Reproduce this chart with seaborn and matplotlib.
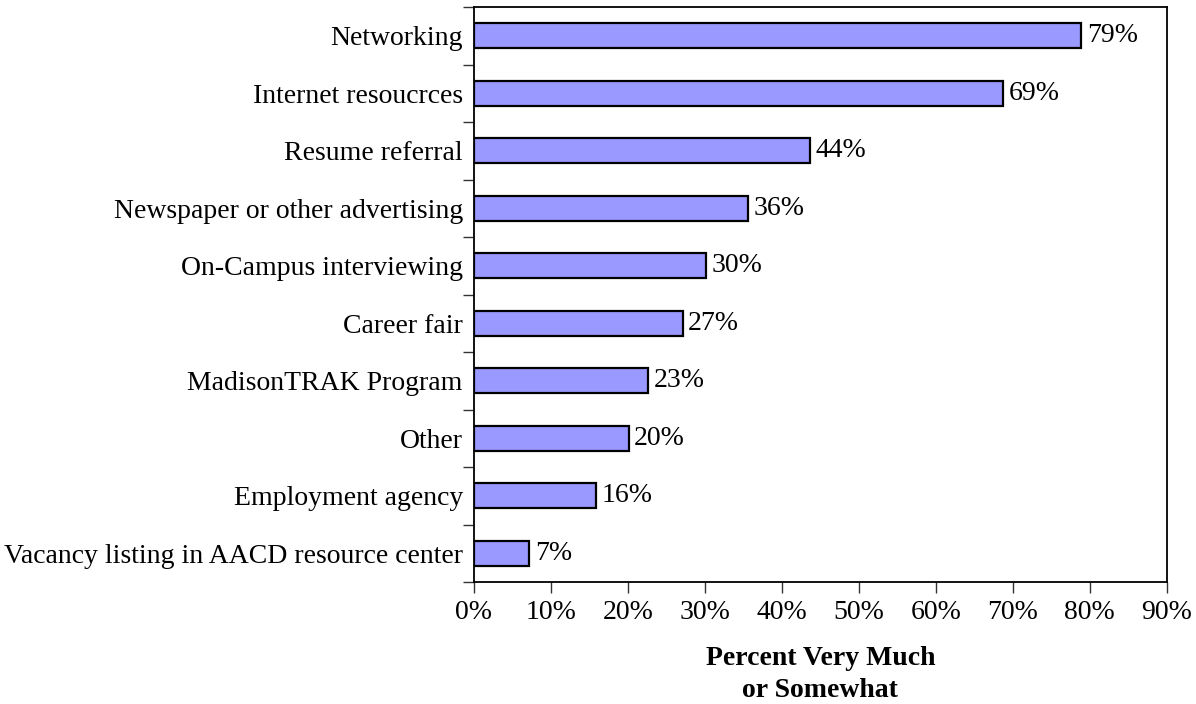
import numpy as np
import pandas as pd
import matplotlib
matplotlib.use('Agg')
import matplotlib.pyplot as plt
import seaborn as sns
from matplotlib.ticker import FixedLocator, PercentFormatter

# ── data ──────────────────────────────────────────────────────────
categories = ['Networking',
              'Internet resoucrces',
              'Resume referral',
              'Newspaper or other advertising',
              'On-Campus interviewing',
              'Career fair',
              'MadisonTRAK Program',
              'Other',
              'Employment agency',
              'Vacancy listing in AACD resource center']
percent = [78.9, 68.7, 43.6, 35.6, 30.1, 27.1, 22.6, 20.1, 15.8, 7.2]
x_ticks = [0, 10, 20, 30, 40, 50, 60, 70, 80, 90]

df = pd.DataFrame({'category': categories, 'percent': percent})

# ── setup ──────────────────────────────────────────────────────────
sns.set_theme(style='white')
plt.rcParams['font.family'] = ['Liberation Serif', 'DejaVu Serif']
FS = 20

fig = plt.figure(figsize=(11.96, 7.04), dpi=100)
ax = fig.add_axes([0.3963, 0.1733, 0.9755 - 0.3963, 0.990 - 0.1733])

sns.barplot(data=df, x='percent', y='category', orient='h',
            color='#9999FF', saturation=1, edgecolor='black',
            linewidth=1.6, width=0.43, ax=ax)

# value labels
ax.bar_label(ax.containers[0],
             labels=[f'{v:.0f}%' for v in percent],
             padding=4, fontsize=FS, color='black')

ax.set_xlim(0, 90)
ax.set_ylim(len(categories) - 0.5, -0.5)
ax.set_xticks(x_ticks)
ax.xaxis.set_major_formatter(PercentFormatter(decimals=0))

# y ticks at the category boundaries, labels at centres
ax.yaxis.set_minor_locator(FixedLocator(np.arange(-0.5, len(categories), 1)))
ax.tick_params(axis='y', which='major', length=0, pad=8,
               labelsize=FS, labelcolor='black')
ax.tick_params(axis='y', which='minor', left=True, length=8,
               width=1.0, color='#333333', direction='out')
ax.tick_params(axis='x', which='major', bottom=True, length=8,
               width=1.0, color='#333333', direction='out', pad=5,
               labelsize=FS, labelcolor='black')

for side in ['left', 'right', 'top', 'bottom']:
    ax.spines[side].set_visible(True)
    ax.spines[side].set_color('black')
    ax.spines[side].set_linewidth(1.3)

ax.set_ylabel('')
ax.set_xlabel('Percent Very Much\nor Somewhat', fontsize=FS,
              fontweight='bold', color='black', labelpad=15,
              linespacing=1.4)

fig.savefig('out.png', dpi=100)
